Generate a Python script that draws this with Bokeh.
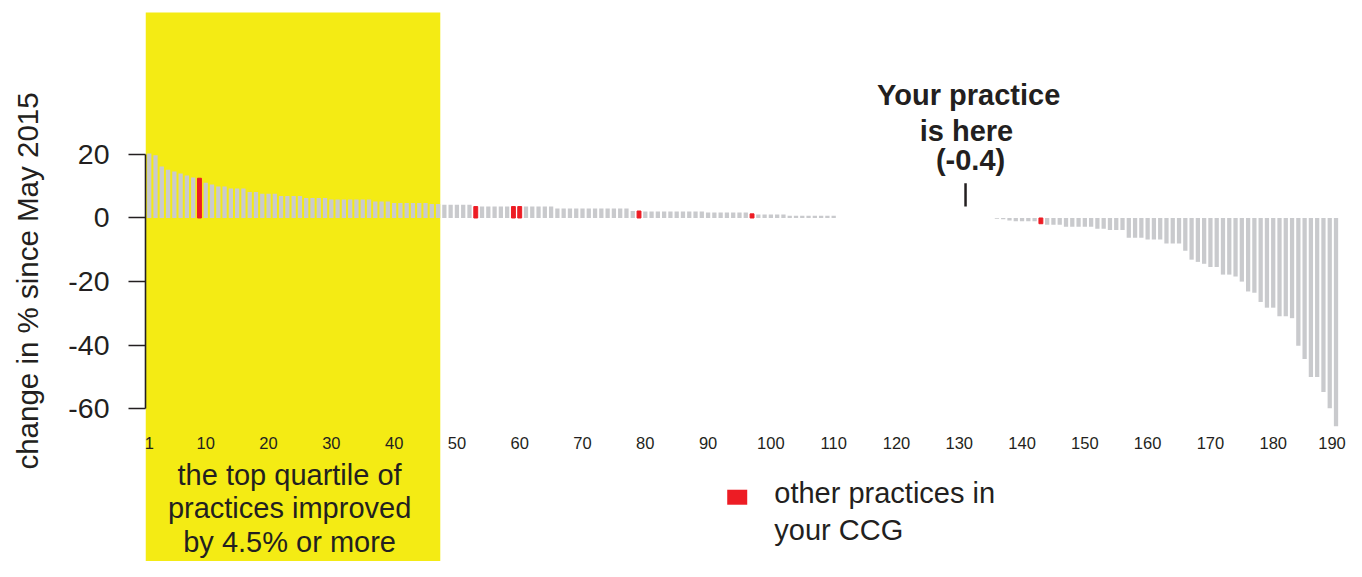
from bokeh.plotting import figure
from bokeh.models import Range1d, FixedTicker, ColumnDataSource
from bokeh.embed import file_html
from bokeh.resources import INLINE
from bokeh.core.properties import value

# ---------------- data ----------------
ranks = list(range(1, 191))
change = [
    20.3, 19.7, 16.2, 15.2, 14.6, 14.0, 13.4, 12.7, 12.5, 11.1,
    10.5, 9.9, 9.9, 9.3, 9.3, 9.3, 8.2, 8.2, 7.6, 7.6,
    7.6, 6.9, 6.9, 6.9, 6.9, 6.3, 6.3, 6.3, 6.3, 5.8,
    5.8, 5.8, 5.8, 5.8, 5.8, 5.8, 5.2, 5.2, 5.2, 4.7,
    4.7, 4.7, 4.7, 4.7, 4.7, 4.4, 4.4, 4.2, 4.2, 4.2,
    4.2, 4.2, 3.6, 3.6, 3.6, 3.6, 3.6, 3.6, 3.6, 3.6,
    3.6, 3.6, 3.6, 3.6, 3.6, 3.0, 3.0, 3.0, 3.0, 3.0,
    3.0, 3.0, 3.0, 3.0, 3.0, 3.0, 3.0, 2.2, 2.2, 2.05,
    2.05, 2.05, 2.05, 2.05, 2.05, 2.05, 2.05, 2.05, 2.05, 1.7,
    1.7, 1.7, 1.7, 1.7, 1.7, 1.7, 1.3, 1.1, 1.1, 1.1,
    1.1, 1.1, 0.7, 0.7, 0.7, 0.7, 0.7, 0.7, 0.7, 0.7,
    0.0, 0.0, 0.0, 0.0, 0.0, 0.0, 0.0, 0.0, 0.0, 0.0,
    0.0, 0.0, 0.0, 0.0, 0.0, 0.0, 0.0, 0.0, 0.0, 0.0,
    -0.4, 0.0, 0.0, 0.0, 0.0, -0.2, -0.4, -0.8, -1.0, -1.0,
    -1.0, -1.0, -1.8, -2.1, -2.1, -2.1, -2.75, -2.75, -2.75, -2.75,
    -2.75, -3.4, -3.4, -3.8, -3.8, -3.8, -6.2, -6.2, -6.2, -6.8,
    -6.8, -6.8, -8.0, -8.0, -8.0, -10.3, -13.1, -13.8, -14.4, -15.4,
    -15.4, -17.8, -17.8, -18.4, -20.0, -23.1, -23.5, -26.4, -28.2, -28.2,
    -30.9, -30.9, -31.5, -40.2, -44.3, -50.0, -50.0, -54.7, -59.8, -65.5,
]
ccg_ranks = [9, 53, 59, 60, 79, 97, 143]
practice_rank = 131
practice_change = -0.4
top_quartile_n = 47
x_tick_values = [1, 10, 20, 30, 40, 50, 60, 70, 80, 90, 100, 110, 120, 130,
                 140, 150, 160, 170, 180, 190]
x_tick_labels = [str(v) for v in x_tick_values]
y_tick_values = [-60, -40, -20, 0, 20]

# ---------------- styling ----------------
FONT = "Liberation Sans"
INK = "#231f20"
GREY = "#c9cacd"
RED = "#ed1c24"
YELLOW = "#f4eb14"
BIG = "29px"

gx, gy, rx, ry = [], [], [], []
for r, c in zip(ranks, change):
    if r == practice_rank:
        continue
    if r in ccg_ranks:
        rx.append(r); ry.append(c)
    else:
        gx.append(r); gy.append(c)

p = figure(width=1346, height=561,
           x_range=Range1d(0.405, 191.67), y_range=Range1d(-108.01, 68.39),
           output_backend="svg", toolbar_location=None,
           x_axis_location=None,
           min_border_left=145, min_border_right=0,
           min_border_top=0, min_border_bottom=0)
p.outline_line_color = None
p.xgrid.grid_line_color = None
p.ygrid.grid_line_color = None

# yellow top-quartile band
p.quad(left=0.405, right=top_quartile_n + 0.35, bottom=-130, top=64.6,
       fill_color=YELLOW, line_color=None)

p.vbar(x=gx, top=gy, bottom=0, width=0.68, fill_color=GREY, line_color=None)
p.vbar(x=rx, top=ry, bottom=0, width=0.62, fill_color=RED, line_color=RED, line_width=1)

# y axis
ya = p.yaxis[0]
ya.ticker = FixedTicker(ticks=y_tick_values)
ya.major_label_overrides = {v: str(v) for v in y_tick_values}
ya.bounds = (min(y_tick_values), max(y_tick_values))
ya.axis_line_color = INK
ya.axis_line_width = 1.6
ya.major_tick_line_color = INK
ya.major_tick_line_width = 1.6
ya.major_tick_out = 17
ya.major_tick_in = 0
ya.minor_tick_line_color = None
ya.major_label_text_font = FONT
ya.major_label_text_font_size = "28.5px"
ya.major_label_text_color = INK
ya.major_label_standoff = 19
ya.axis_label = "change in % since May 2015"
ya.axis_label_text_font = FONT
ya.axis_label_text_font_size = "29.5px"
ya.axis_label_text_font_style = "normal"
ya.axis_label_text_color = INK
ya.axis_label_standoff = 21

# x tick labels (no axis line in the original)
xt = ColumnDataSource(dict(
    x=x_tick_values, y=[-70.7] * len(x_tick_values), text=x_tick_labels,
    dx=[0] * (len(x_tick_values) - 1) + [-4]))
p.text(x="x", y="y", text="text", x_offset="dx", source=xt,
       text_font=value(FONT), text_font_size=value("16.5px"), text_color=INK,
       text_align="center", text_baseline="alphabetic")

# quartile note
p.text(x=[23.35] * 3, y=[-80.8, -91.3, -101.8],
       text=["the top quartile of", "practices improved",
             "by 4.5% or more"],
       text_font=value(FONT), text_font_size=value(BIG), text_color=INK,
       text_align="center", text_baseline="alphabetic")

# legend
p.rect(x=[94.64], y=[-87.8], width=20, height=15, width_units="screen",
       height_units="screen", fill_color=RED, line_color=None)
p.text(x=[100.54, 100.54], y=[-86.6, -98.2],
       text=["other practices in", "your CCG"],
       text_font=value(FONT), text_font_size=value(BIG), text_color=INK,
       text_align="left", text_baseline="alphabetic")

# your practice marker
p.segment(x0=[practice_rank], y0=[3.6], x1=[practice_rank], y1=[10.9],
          line_color=INK, line_width=2.5)
p.text(x=[practice_rank + 0.5, practice_rank + 0.15, practice_rank + 0.8],
       y=[38.8, 27.4, 18.3],
       text=["Your practice", "is here", "(%s)" % practice_change],
       text_font=value(FONT), text_font_size=value(BIG),
       text_font_style="bold", text_color=INK,
       text_align="center", text_baseline="alphabetic")

open("out.html", "w").write(file_html(p, INLINE))
